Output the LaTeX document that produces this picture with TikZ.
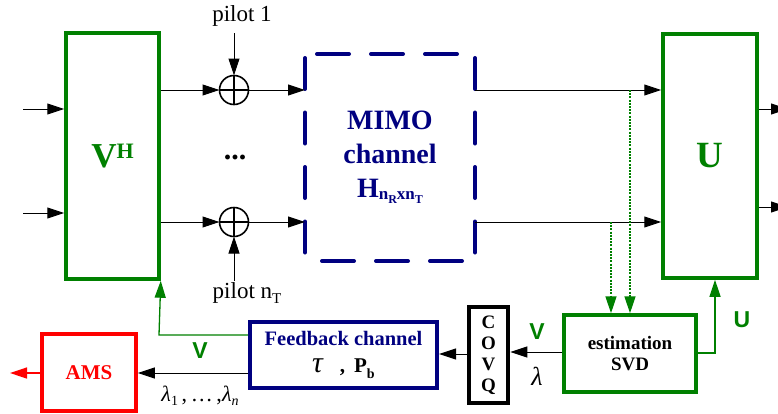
\documentclass[tikz,border=0pt]{standalone}
\usepackage{fontspec}
\setmainfont{Liberation Serif}
\setsansfont{Liberation Sans}
\usetikzlibrary{arrows.meta}
\definecolor{dgreen}{RGB}{0,128,0}
\definecolor{navy}{RGB}{0,0,128}
\definecolor{bred}{RGB}{255,0,0}
\newcommand\fsz[1]{\fontsize{#1}{#1}\selectfont}
\begin{document}
\begin{tikzpicture}[x=1pt,y=-1pt,
  arr/.style={-{Triangle[length=17pt,width=11pt]}, line width=1pt},
  garr/.style={-{Triangle[length=17pt,width=11pt]}, line width=1.3pt, draw=dgreen},
  gdot/.style={garr, dash pattern=on 2pt off 1.2pt, line width=1.6pt},
  gbox/.style={draw=dgreen, line width=3.5pt, rectangle, inner sep=0pt},
  sumc/.style={draw, circle, line width=1.6pt, minimum size=29pt, inner sep=0pt, outer sep=0pt},
  mimodash/.style={draw=navy, line width=4pt, line cap=round},
  glab/.style={text=dgreen, font=\sffamily\bfseries\fsz{23}, inner sep=0pt},
  plab/.style={font=\fsz{23}, inner sep=0pt}]
\useasboundingbox (0,0) rectangle (778,413);

% V^H box
\node[gbox, minimum width=93pt, minimum height=246pt, text=dgreen, font=\bfseries\fsz{35}] (VH) at (112.5,156)
  {V\raisebox{9pt}{\fsz{22}H}};
% summing nodes
\node[sumc] (s1) at (234,90) {};
\node[sumc] (s2) at (234,222) {};
\draw[line width=1.6pt] (s1.north) -- (s1.south) (s1.west) -- (s1.east);
\draw[line width=1.6pt] (s2.north) -- (s2.south) (s2.west) -- (s2.east);
\node[font=\bfseries\fsz{30}, inner sep=0pt] (dots) at (235,157) {...};
% pilots
\node[plab] (p1) at (242,16) {pilot 1};
\node[plab] (pn) at (247,293) {pilot n\raisebox{-5pt}{\fsz{15}T}};
\coordinate (p1s) at (234,33);
\coordinate (pns) at (234,281);
\draw[arr] (p1s) -- (s1.north);
\draw[arr] (pns) -- (s2.south);

% MIMO channel
\node[minimum width=170pt, minimum height=207pt, inner sep=0pt, outer sep=0pt, text=navy,
  font=\bfseries\fsz{28}, align=center] (mimo) at (390,157.5)
  {MIMO\\[6pt]channel\\[6pt]H\raisebox{-2pt}{\fsz{17}n\raisebox{-4pt}{\fsz{12}R}xn\raisebox{-4pt}{\fsz{12}T}}};
\draw[mimodash, dash pattern=on 31pt off 23.5pt, dash phase=50.5pt] (mimo.north west) -- (mimo.south west);
\draw[mimodash, dash pattern=on 31pt off 23.5pt, dash phase=50.5pt] (mimo.north east) -- (mimo.south east);
\draw[mimodash, dash pattern=on 32pt off 22pt, dash phase=42pt] (mimo.north west) -- (mimo.north east);
\draw[mimodash, dash pattern=on 32pt off 22pt, dash phase=37pt] (mimo.south west) -- (mimo.south east);

% U box
\node[gbox, minimum width=94pt, minimum height=244pt, text=dgreen, font=\bfseries\fsz{37}] (U) at (710,156) {U};

% estimation
\node[gbox, minimum width=132pt, minimum height=77pt, font=\bfseries\fsz{19}, align=center] (est) at (630,353.5)
  {estimation\\[2pt]SVD};
% COVQ
\node[draw, line width=4.5pt, minimum width=39pt, minimum height=96pt, inner sep=0pt, font=\bfseries\fsz{19}, align=center] (covq) at (488.5,355)
  {C\\[2pt]O\\[2pt]V\\[2pt]Q};
% Feedback
\node[draw=navy, line width=4pt, minimum width=187pt, minimum height=66pt, inner sep=0pt, align=center] (fb) at (343.5,355)
  {\textcolor{navy}{\bfseries\fsz{20.5}Feedback channel}\\[12pt]
   {\fsz{30}\textit{τ}}\hspace{16pt}{\bfseries\fsz{21},\hspace{9pt}P\raisebox{-6pt}{\fsz{14}b}}};
% AMS
\node[draw=bred, line width=3.5pt, minimum width=94pt, minimum height=77pt, inner sep=0pt, text=bred, font=\bfseries\fsz{21}] (ams) at (89,372.5) {AMS};

% inputs
\coordinate (in1) at (23,109);
\coordinate (in2) at (23,213);
\draw[arr] (in1) -- (VH.west |- in1);
\draw[arr] (in2) -- (VH.west |- in2);
% VH -> sums -> MIMO
\draw[arr] (VH.east |- s1) -- (s1.west);
\draw[arr] (VH.east |- s2) -- (s2.west);
\draw[arr] (s1.east) -- (mimo.west |- s1);
\draw[arr] (s2.east) -- (mimo.west |- s2);
% MIMO -> U
\draw[arr] (mimo.east |- s1) -- (U.west |- s1);
\draw[arr] (mimo.east |- s2) -- (U.west |- s2);
% U outputs
\coordinate (o1) at (788,109);
\coordinate (o2) at (788,207);
\draw[arr] (U.east |- o1) -- (o1);
\draw[arr] (U.east |- o2) -- (o2);
% dotted taps
\coordinate (d1) at (630,90);
\coordinate (d2) at (611,222);
\draw[gdot] (d1) -- (est.north -| d1);
\draw[gdot] (d2) -- (est.north -| d2);
% est -> U
\coordinate (eu) at (715,353);
\draw[garr] (est.east |- eu) -- (eu) -- (U.south -| eu);
\node[glab] (ulab) at (742,320) {U};
% est -> COVQ
\coordinate (ec) at (0,352);
\draw[arr] (est.west |- ec) -- (covq.east |- ec);
\node[glab] (vlab1) at (537,332) {V};
\node[font=\fsz{26}\itshape, inner sep=0pt] (lam) at (537,376) {λ};
% COVQ -> fb
\coordinate (cf) at (0,354);
\draw[arr] (covq.west |- cf) -- (fb.east |- cf);
% fb -> VH
\coordinate (fv) at (159,335);
\draw[garr] (fb.west |- fv) -- (fv) -- (VH.south east);
\node[glab] (vlab2) at (200,351) {V};
% fb -> AMS
\coordinate (fa) at (0,373);
\draw[arr] (fb.west |- fa) -- (ams.east |- fa);
\node[font=\fsz{22}, inner sep=0pt] (lams) at (200,396)
  {\textit{λ}\raisebox{-4pt}{\fsz{14}1}\,,\,…\,,\textit{λ}\raisebox{-4pt}{\fsz{14}\textit{n}}};
% AMS out
\coordinate (ao) at (10,373);
\draw[-{Triangle[length=17pt,width=11pt]}, line width=1.3pt, draw=bred] (ams.west |- ao) -- (ao);
\end{tikzpicture}
\end{document}
